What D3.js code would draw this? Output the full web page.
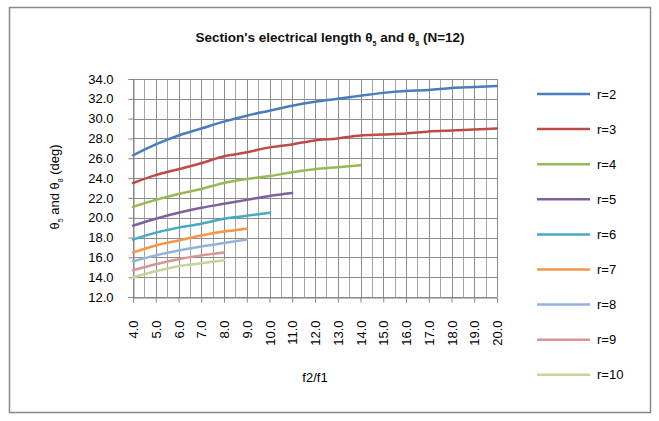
<!DOCTYPE html>
<html>
<head>
<meta charset="utf-8">
<script src="https://cdn.jsdelivr.net/npm/d3@7"></script>
<style>
  body { margin: 0; background: #fff; }
  text { font-family: "Liberation Sans", Arial, sans-serif; }
</style>
</head>
<body>
<div id="chart"></div>
<script>
// x categories (f2/f1)
let ratios = [4,5,6,7,8,9,10,11,12,13,14,15,16,17,18,19,20];
let y_ticks = [12,14,16,18,20,22,24,26,28,30,32,34];

// theta values per r
let r2  = [26.3,27.4,28.3,29.0,29.7,30.3,30.8,31.3,31.7,32.0,32.3,32.6,32.8,32.9,33.1,33.2,33.3];
let r3  = [23.5,24.3,24.9,25.5,26.2,26.6,27.1,27.4,27.8,28.0,28.3,28.4,28.5,28.7,28.8,28.9,29.0];
let r4  = [21.1,21.8,22.4,22.9,23.5,23.9,24.2,24.6,24.9,25.1,25.3];
let r5  = [19.2,19.9,20.5,21.0,21.4,21.8,22.2,22.5];
let r6  = [17.8,18.5,19.0,19.4,19.9,20.2,20.5];
let r7  = [16.5,17.2,17.7,18.2,18.6,18.9];
let r8  = [15.6,16.2,16.7,17.1,17.45,17.8];
let r9  = [14.7,15.3,15.8,16.2,16.5];
let r10 = [14.0,14.6,15.1,15.4,15.7];

let series_names = ['r=2','r=3','r=4','r=5','r=6','r=7','r=8','r=9','r=10'];
let series_values = [r2,r3,r4,r5,r6,r7,r8,r9,r10];
let colors = ['#4A7EBB','#BE4B48','#98B954','#7D60A0','#46AAC5','#F79646','#95B3D7','#D99694','#C3D69B'];

const width = 659, height = 421;

let svg = d3.select('#chart')
    .append('svg')
    .attr('width',width)
    .attr('height',height);

// outer frame
svg.append('rect')
    .attr('x',9.5).attr('y',7.5)
    .attr('width',641).attr('height',405)
    .attr('fill','#fff')
    .attr('stroke','#8a8a8a')
    .attr('stroke-width',1.5);

const xScale = d3.scaleLinear().domain([4,20]).range([133,497]);
const yScale = d3.scaleLinear().domain([12,34]).range([297,79]);

// vertical grid: at each category and halfway between
let half_steps = d3.range(4,20.01,0.5);
svg.append('g')
    .selectAll('line')
    .data(half_steps)
    .enter()
    .append('line')
    .attr('x1',d=>Math.round(xScale(d))+0.5)
    .attr('x2',d=>Math.round(xScale(d))+0.5)
    .attr('y1',yScale(34))
    .attr('y2',yScale(12))
    .attr('stroke',d=>Number.isInteger(d)?'#8c8c8c':'#a6a6a6')
    .attr('stroke-width',1);

// horizontal grid
svg.append('g')
    .selectAll('line')
    .data(y_ticks)
    .enter()
    .append('line')
    .attr('x1',xScale(4))
    .attr('x2',xScale(20))
    .attr('y1',d=>Math.round(yScale(d))+0.5)
    .attr('y2',d=>Math.round(yScale(d))+0.5)
    .attr('stroke','#8c8c8c')
    .attr('stroke-width',1);

// y axis
let yAxis = d3.axisLeft(yScale)
    .tickValues(y_ticks)
    .tickFormat(d3.format('.1f'))
    .tickSize(5)
    .tickPadding(15);

let gy = svg.append('g')
    .attr('transform','translate('+(Math.round(xScale(4))+0.5)+',0)')
    .call(yAxis);
gy.select('.domain').attr('stroke','#868686');
gy.selectAll('.tick line').attr('stroke','#868686');
gy.selectAll('.tick text').attr('fill','#000').style('font-size','13px');

// x axis
let xAxis = d3.axisBottom(xScale)
    .tickValues(ratios)
    .tickFormat(d3.format('.1f'))
    .tickSize(5);

let gx = svg.append('g')
    .attr('transform','translate(0,'+(Math.round(yScale(12))+0.5)+')')
    .call(xAxis);
gx.select('.domain').attr('stroke','#868686');
gx.selectAll('.tick line').attr('stroke','#868686');
gx.selectAll('.tick text')
    .attr('fill','#000')
    .style('font-size','13px')
    .attr('text-anchor','end')
    .attr('transform','rotate(-90)')
    .attr('x',-23)
    .attr('y',0)
    .attr('dy','0.35em');

// series lines
let line = d3.line()
    .x((d,i)=>xScale(ratios[i]))
    .y(d=>yScale(d))
    .curve(d3.curveMonotoneX);

series_values.forEach(function(vals, i){
    svg.append('path')
        .datum(vals)
        .attr('d',line)
        .attr('fill','none')
        .attr('stroke',colors[i])
        .attr('stroke-width',2.5)
        .attr('stroke-linecap','round');
});

// legend
let legend = svg.append('g');
series_names.forEach(function(name, i){
    let ly = 94 + i*35.1;
    legend.append('line')
        .attr('x1',537).attr('x2',590)
        .attr('y1',ly).attr('y2',ly)
        .attr('stroke',colors[i])
        .attr('stroke-width',2.5);
    legend.append('text')
        .attr('x',597).attr('y',ly)
        .attr('dy','0.35em')
        .style('font-size','13px')
        .text(name);
});

// title
let title = svg.append('text')
    .attr('x',330).attr('y',42)
    .attr('text-anchor','middle')
    .style('font-size','13.5px')
    .style('font-weight','bold')
    .attr('fill','#111');
title.append('tspan').text("Section's electrical length θ");
title.append('tspan').attr('baseline-shift','sub').style('font-size','7px').text('5');
title.append('tspan').text('  and θ');
title.append('tspan').attr('baseline-shift','sub').style('font-size','7px').text('8');
title.append('tspan').text(' (N=12)');

// axis titles
svg.append('text')
    .attr('x',315).attr('y',382)
    .attr('text-anchor','middle')
    .style('font-size','13px')
    .text('f2/f1');

let ytitle = svg.append('text')
    .attr('transform','translate(59,187) rotate(-90)')
    .attr('text-anchor','middle')
    .style('font-size','13px');
ytitle.append('tspan').text('θ');
ytitle.append('tspan').attr('baseline-shift','sub').style('font-size','7px').text('5');
ytitle.append('tspan').text(' and θ');
ytitle.append('tspan').attr('baseline-shift','sub').style('font-size','7px').text('8');
ytitle.append('tspan').text(' (deg)');
</script>
</body>
</html>
